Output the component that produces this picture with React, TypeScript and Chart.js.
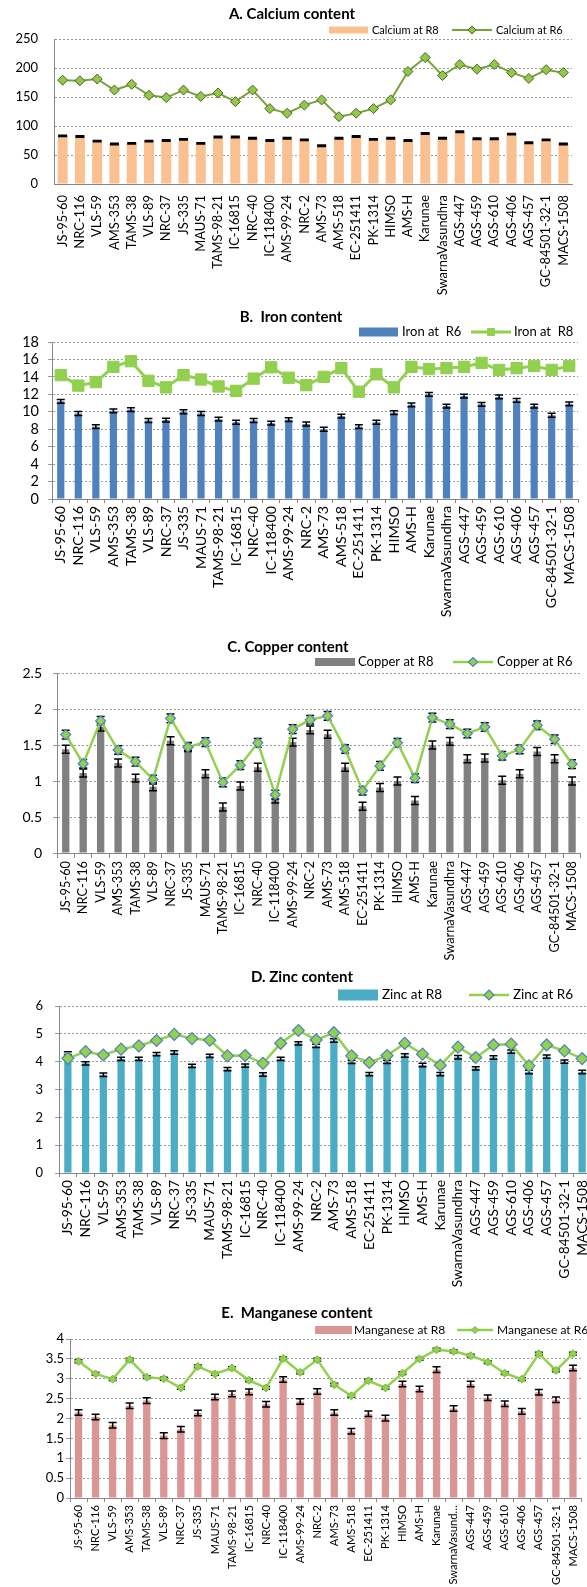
import React, { useEffect, useRef } from 'react';
import { Chart, registerables } from 'chart.js';

Chart.register(...registerables);
Chart.defaults.font.family = 'Lato, "Liberation Sans", sans-serif';

// ---------------- data ----------------
const GENOTYPES = [
  'JS-95-60', 'NRC-116', 'VLS-59', 'AMS-353', 'TAMS-38', 'VLS-89', 'NRC-37', 'JS-335', 'MAUS-71',
  'TAMS-98-21', 'IC-16815', 'NRC-40', 'IC-118400', 'AMS-99-24', 'NRC-2', 'AMS-73', 'AMS-518',
  'EC-251411', 'PK-1314', 'HIMSO', 'AMS-H', 'Karunae', 'SwarnaVasundhra', 'AGS-447', 'AGS-459',
  'AGS-610', 'AGS-406', 'AGS-457', 'GC-84501-32-1', 'MACS-1508',
];
const GENOTYPES_SHORT = GENOTYPES.map((g) => (g === 'SwarnaVasundhra' ? 'SwarnaVasund…' : g));

const CALCIUM_R8 = [83, 82, 74, 69, 70, 74, 75, 77, 70, 81, 81, 79, 75, 79, 76, 66, 79, 82, 77, 79, 75, 87, 79, 90, 78, 78, 86, 71, 76, 69];
const CALCIUM_R6 = [179, 178, 181, 162, 172, 153, 149, 162, 151, 157, 142, 162, 130, 122, 136, 145, 116, 122, 130, 145, 194, 218, 187, 206, 198, 206, 192, 182, 197, 192];
const CALCIUM_TICKS = [0, 50, 100, 150, 200, 250];

const IRON_R6 = [11.2, 9.8, 8.3, 10.1, 10.25, 9.0, 9.05, 10.0, 9.8, 9.15, 8.8, 9.0, 8.7, 9.1, 8.6, 8.0, 9.5, 8.3, 8.8, 9.9, 10.8, 12.0, 10.65, 11.8, 10.85, 11.7, 11.3, 10.65, 9.6, 10.9];
const IRON_R8 = [14.2, 13.0, 13.4, 15.15, 15.8, 13.55, 12.8, 14.2, 13.7, 12.9, 12.4, 13.8, 15.1, 13.9, 13.05, 14.0, 15.0, 12.3, 14.3, 12.8, 15.15, 14.9, 15.0, 15.15, 15.6, 14.8, 15.0, 15.25, 14.8, 15.25];
const IRON_TICKS = [0, 2, 4, 6, 8, 10, 12, 14, 16, 18];

const COPPER_R8 = [1.44, 1.11, 1.75, 1.25, 1.04, 0.92, 1.56, 1.48, 1.1, 0.64, 0.93, 1.19, 0.75, 1.54, 1.71, 1.65, 1.19, 0.65, 0.91, 1.0, 0.73, 1.5, 1.55, 1.31, 1.32, 1.01, 1.1, 1.41, 1.31, 1.0];
const COPPER_R6 = [1.645, 1.24, 1.835, 1.43, 1.27, 1.02, 1.87, 1.47, 1.54, 0.98, 1.22, 1.53, 0.81, 1.72, 1.85, 1.905, 1.445, 0.865, 1.21, 1.53, 1.04, 1.88, 1.79, 1.66, 1.75, 1.35, 1.44, 1.775, 1.58, 1.235];
const COPPER_TICKS = [0, 0.5, 1, 1.5, 2, 2.5];

const ZINC_R8 = [4.3, 3.94, 3.53, 4.1, 4.1, 4.27, 4.33, 3.85, 4.21, 3.73, 3.86, 3.54, 4.1, 4.66, 4.57, 4.76, 3.99, 3.55, 3.99, 4.22, 3.88, 3.55, 4.16, 3.76, 4.15, 4.36, 3.63, 4.18, 4.0, 3.63];
const ZINC_R6 = [4.12, 4.36, 4.24, 4.45, 4.57, 4.76, 4.98, 4.83, 4.77, 4.21, 4.22, 3.94, 4.66, 5.12, 4.78, 5.04, 4.21, 3.97, 4.22, 4.66, 4.27, 3.87, 4.52, 4.15, 4.6, 4.63, 3.85, 4.6, 4.39, 4.11];
const ZINC_TICKS = [0, 1, 2, 3, 4, 5, 6];

const MANGANESE_R8 = [2.15, 2.04, 1.83, 2.32, 2.45, 1.57, 1.73, 2.14, 2.54, 2.62, 2.67, 2.36, 2.98, 2.43, 2.68, 2.15, 1.68, 2.12, 2.01, 2.87, 2.74, 3.23, 2.25, 2.87, 2.52, 2.37, 2.18, 2.66, 2.47, 3.27];
const MANGANESE_R6 = [3.44, 3.12, 2.99, 3.48, 3.04, 3.0, 2.77, 3.31, 3.12, 3.27, 2.96, 2.77, 3.51, 3.16, 3.48, 2.85, 2.57, 2.95, 2.77, 3.14, 3.5, 3.73, 3.69, 3.58, 3.42, 3.14, 2.99, 3.63, 3.21, 3.63];
const MANGANESE_TICKS = [0, 0.5, 1, 1.5, 2, 2.5, 3, 3.5, 4];

// error-bar half widths (in data units)
const CALCIUM_R8_ERR = 1.2;
const IRON_R6_ERR = 0.22;
const COPPER_R8_ERR = 0.055;
const COPPER_R6_ERR = 0.06;
const ZINC_R8_ERR = 0.06;
const MANGANESE_R8_ERR = 0.07;
const MANGANESE_R6_ERR = 0.035;

// ---------------- styling / layout ----------------
const AXIS = '#868686';
const GRID = '#9a9a9a';
const FONT = 'Lato, "Liberation Sans", sans-serif';

type Marker = 'rectRot' | 'rect';
type Panel = {
  id: string; top: number; height: number; width: number; padBottom: number;
  title: string; titleX: number; titleY: number; titleSize: number;
  labels: string[];
  bar: { label: string; data: number[]; color: string; pct: number; err?: number; cap: number };
  line: { label: string; data: number[]; color: string; width: number; marker: Marker; radius: number;
    fill: string; border: string; borderWidth: number; err?: number; cap: number };
  yTicks: number[]; yWidth: number; yTick: number; yPad: number; yFont: number;
  xHeight: number; xTick: number; xPad: number; xFont: number;
  padTop: number; padRight: number;
  legend: { y: number; boxX: number; boxW: number; boxH: number; t1X: number; lineX1: number; lineX2: number; t2X: number; font: number; markerR: number };
};

const PANELS: Panel[] = [
  {
    id: 'ca', top: 0, height: 320, padBottom: 20, width: 587,
    title: 'A. Calcium content', titleX: 292, titleY: 14, titleSize: 15,
    labels: GENOTYPES,
    bar: { label: 'Calcium at R8', data: CALCIUM_R8, color: '#FAC090', pct: 0.58, err: CALCIUM_R8_ERR, cap: 4.5 },
    line: { label: 'Calcium at R6', data: CALCIUM_R6, color: '#77A23A', width: 2, marker: 'rectRot', radius: 5,
      fill: '#92C84A', border: '#4F6228', borderWidth: 1, cap: 0 },
    yTicks: CALCIUM_TICKS, yWidth: 54, yTick: 0, yPad: 16, yFont: 13,
    xHeight: 116, xTick: 0, xPad: 11, xFont: 12.9,
    padTop: 39, padRight: 15,
    legend: { y: 30, boxX: 329, boxW: 39, boxH: 7, t1X: 372, lineX1: 452, lineX2: 492, t2X: 496, font: 11, markerR: 4 },
  },
  {
    id: 'fe', top: 300, height: 350, padBottom: 20, width: 587,
    title: 'B.  Iron content', titleX: 291, titleY: 17, titleSize: 15,
    labels: GENOTYPES,
    bar: { label: 'Iron at  R6', data: IRON_R6, color: '#4F81BD', pct: 0.41, err: IRON_R6_ERR, cap: 4 },
    line: { label: 'Iron at  R8', data: IRON_R8, color: '#92D050', width: 3, marker: 'rect', radius: 8,
      fill: '#92D050', border: '#92D050', borderWidth: 1, cap: 0 },
    yTicks: IRON_TICKS, yWidth: 52, yTick: 4, yPad: 9, yFont: 14.5,
    xHeight: 131, xTick: 4, xPad: 3, xFont: 14.3,
    padTop: 42, padRight: 3,
    legend: { y: 32, boxX: 359, boxW: 39, boxH: 9, t1X: 402, lineX1: 471, lineX2: 511, t2X: 514, font: 13, markerR: 5 },
  },
  {
    id: 'cu', top: 630, height: 350, padBottom: 20, width: 587,
    title: 'C. Copper content', titleX: 288, titleY: 17, titleSize: 15,
    labels: GENOTYPES,
    bar: { label: 'Copper at R8', data: COPPER_R8, color: '#808080', pct: 0.42, err: COPPER_R8_ERR, cap: 4 },
    line: { label: 'Copper at R6', data: COPPER_R6, color: '#92D050', width: 2.5, marker: 'rectRot', radius: 5,
      fill: '#92D050', border: '#4F81BD', borderWidth: 1.2, err: COPPER_R6_ERR, cap: 4 },
    yTicks: COPPER_TICKS, yWidth: 57, yTick: 4, yPad: 11, yFont: 14,
    xHeight: 107, xTick: 5, xPad: 3, xFont: 12.8,
    padTop: 43, padRight: 5,
    legend: { y: 32, boxX: 315, boxW: 40, boxH: 8, t1X: 358, lineX1: 453, lineX2: 493, t2X: 497, font: 13, markerR: 4.5 },
  },
  {
    id: 'zn', top: 960, height: 355, padBottom: 20, width: 600,
    title: 'D. Zinc content', titleX: 302, titleY: 17, titleSize: 15,
    labels: GENOTYPES,
    bar: { label: 'Zinc at R8', data: ZINC_R8, color: '#4BACC6', pct: 0.41, err: ZINC_R8_ERR, cap: 4 },
    line: { label: 'Zinc at R6', data: ZINC_R6, color: '#92D050', width: 2.5, marker: 'rectRot', radius: 6,
      fill: '#92D050', border: '#4F81BD', borderWidth: 1.2, cap: 0 },
    yTicks: ZINC_TICKS, yWidth: 59, yTick: 4, yPad: 12, yFont: 13,
    xHeight: 122, xTick: 4, xPad: 3, xFont: 13.8,
    padTop: 46, padRight: 9,
    legend: { y: 35, boxX: 338, boxW: 40, boxH: 11, t1X: 382, lineX1: 469, lineX2: 509, t2X: 513, font: 13.5, markerR: 5 },
  },
  {
    id: 'mn', top: 1295, height: 292, padBottom: 0, width: 587,
    title: 'E.  Manganese content', titleX: 297, titleY: 18, titleSize: 15,
    labels: GENOTYPES_SHORT,
    bar: { label: 'Manganese at R8', data: MANGANESE_R8, color: '#D99694', pct: 0.43, err: MANGANESE_R8_ERR, cap: 4 },
    line: { label: 'Manganese at R6', data: MANGANESE_R6, color: '#92D050', width: 2.5, marker: 'rectRot', radius: 4,
      fill: '#92D050', border: '#7AB33E', borderWidth: 1, err: MANGANESE_R6_ERR, cap: 4 },
    yTicks: MANGANESE_TICKS, yWidth: 70, yTick: 4, yPad: 2, yFont: 13,
    xHeight: 89, xTick: 4, xPad: 3, xFont: 11.2,
    padTop: 44, padRight: 5.5,
    legend: { y: 35, boxX: 315, boxW: 37, boxH: 8, t1X: 354, lineX1: 457, lineX2: 493, t2X: 497, font: 12, markerR: 3.5 },
  },
];

function drawMarker(ctx: CanvasRenderingContext2D, kind: Marker, x: number, y: number, r: number) {
  ctx.beginPath();
  if (kind === 'rectRot') {
    ctx.moveTo(x, y - r);
    ctx.lineTo(x + r, y);
    ctx.lineTo(x, y + r);
    ctx.lineTo(x - r, y);
    ctx.closePath();
  } else {
    const s = r * Math.SQRT2;
    ctx.rect(x - s / 2, y - s / 2, s, s);
  }
}

function makeDecor(p: Panel) {
  const drawErr = (chart: any, index: number, behind: boolean) => {
    const ds = chart.data.datasets[index];
    const eb = ds.errorBar;
    if (!eb || eb.behind !== behind) return;
    const meta = chart.getDatasetMeta(index);
    const ys = chart.scales.y;
    const ctx: CanvasRenderingContext2D = chart.ctx;
    ctx.save();
    ctx.strokeStyle = '#000';
    ctx.lineWidth = 1.5;
    meta.data.forEach((el: any, i: number) => {
      const v = ds.data[i];
      const x = el.x;
      const yt = ys.getPixelForValue(v + eb.value);
      const yb = ys.getPixelForValue(v - eb.value);
      ctx.beginPath();
      ctx.moveTo(x, yt); ctx.lineTo(x, yb);
      ctx.moveTo(x - eb.cap, yt); ctx.lineTo(x + eb.cap, yt);
      ctx.moveTo(x - eb.cap, yb); ctx.lineTo(x + eb.cap, yb);
      ctx.stroke();
    });
    ctx.restore();
  };
  return {
    id: 'decor_' + p.id,
    beforeDatasetDraw(chart: any, args: any) { drawErr(chart, args.index, true); },
    afterDatasetDraw(chart: any, args: any) { drawErr(chart, args.index, false); },
    afterDraw(chart: any) {
      const ctx: CanvasRenderingContext2D = chart.ctx;
      const L = p.legend;
      ctx.save();
      // title
      ctx.fillStyle = '#000';
      ctx.font = `bold ${p.titleSize}px ${FONT}`;
      ctx.textAlign = 'center';
      ctx.textBaseline = 'middle';
      ctx.fillText(p.title, p.titleX, p.titleY);
      // legend: bar item
      ctx.font = `${L.font}px ${FONT}`;
      ctx.textAlign = 'left';
      ctx.fillStyle = p.bar.color;
      ctx.fillRect(L.boxX, L.y - L.boxH / 2, L.boxW, L.boxH);
      ctx.fillStyle = '#000';
      ctx.fillText(p.bar.label, L.t1X, L.y);
      // legend: line item
      ctx.strokeStyle = p.line.color;
      ctx.lineWidth = p.line.width;
      ctx.beginPath();
      ctx.moveTo(L.lineX1, L.y);
      ctx.lineTo(L.lineX2, L.y);
      ctx.stroke();
      drawMarker(ctx, p.line.marker, (L.lineX1 + L.lineX2) / 2, L.y, L.markerR);
      ctx.fillStyle = p.line.fill;
      ctx.fill();
      ctx.lineWidth = p.line.borderWidth;
      ctx.strokeStyle = p.line.border;
      ctx.stroke();
      ctx.fillStyle = '#000';
      ctx.fillText(p.line.label, L.t2X, L.y);
      ctx.restore();
    },
  };
}

function buildConfig(p: Panel): any {
  const yMin = p.yTicks[0];
  const yMax = p.yTicks[p.yTicks.length - 1];
  const yStep = p.yTicks[1] - p.yTicks[0];
  return {
    type: 'bar',
    data: {
      labels: p.labels,
      datasets: [
        {
          type: 'line', label: p.line.label, data: p.line.data,
          borderColor: p.line.color, borderWidth: p.line.width, fill: false, tension: 0,
          pointStyle: p.line.marker, pointRadius: p.line.radius, pointBackgroundColor: p.line.fill,
          pointBorderColor: p.line.border, pointBorderWidth: p.line.borderWidth, order: 0,
          errorBar: p.line.err ? { value: p.line.err, cap: p.line.cap, behind: true } : undefined,
        },
        {
          type: 'bar', label: p.bar.label, data: p.bar.data, backgroundColor: p.bar.color,
          borderWidth: 0, barPercentage: p.bar.pct, categoryPercentage: 1, order: 1,
          errorBar: p.bar.err ? { value: p.bar.err, cap: p.bar.cap, behind: false } : undefined,
        },
      ],
    },
    options: {
      responsive: false,
      animation: false,
      devicePixelRatio: 1,
      layout: { padding: { top: p.padTop, right: p.padRight, left: 0, bottom: p.padBottom } },
      plugins: { legend: { display: false }, title: { display: false }, tooltip: { enabled: false } },
      scales: {
        x: {
          type: 'category',
          offset: true,
          grid: { display: true, offset: true, drawOnChartArea: false, drawTicks: p.xTick > 0, tickLength: p.xTick, color: AXIS },
          border: { display: true, color: AXIS, width: 1 },
          ticks: { autoSkip: false, maxRotation: 90, minRotation: 90, padding: p.xPad, color: '#000', font: { family: FONT, size: p.xFont } },
          afterFit: (s: any) => { s.height = p.xHeight; s.paddingLeft = 0; s.paddingRight = 0; },
        },
        y: {
          min: yMin, max: yMax,
          grid: { color: GRID, lineWidth: 1, drawTicks: p.yTick > 0, tickLength: p.yTick },
          border: { display: true, color: AXIS, width: 1, dash: [2, 2] },
          ticks: { stepSize: yStep, autoSkip: false, padding: p.yPad, color: '#000', font: { family: FONT, size: p.yFont }, callback: (v: any) => String(v) },
          afterFit: (s: any) => { s.width = p.yWidth; s.paddingTop = 0; s.paddingBottom = 0; },
        },
      },
    },
    plugins: [makeDecor(p)],
  };
}

function ChartPanel({ panel }: { panel: Panel }) {
  const ref = useRef<HTMLCanvasElement>(null);
  useEffect(() => {
    if (!ref.current) return;
    const chart = new Chart(ref.current, buildConfig(panel));
    return () => chart.destroy();
  }, [panel]);
  return (
    <canvas
      ref={ref}
      width={panel.width}
      height={panel.height}
      style={{ position: 'absolute', left: 0, top: panel.top, width: panel.width, height: panel.height, display: 'block' }}
    />
  );
}

export default function App() {
  return (
    <div style={{ position: 'absolute', left: 0, top: 0, width: 587, height: 1587, overflow: 'hidden', background: '#fff' }}>
      {PANELS.map((p) => (
        <ChartPanel key={p.id} panel={p} />
      ))}
    </div>
  );
}
